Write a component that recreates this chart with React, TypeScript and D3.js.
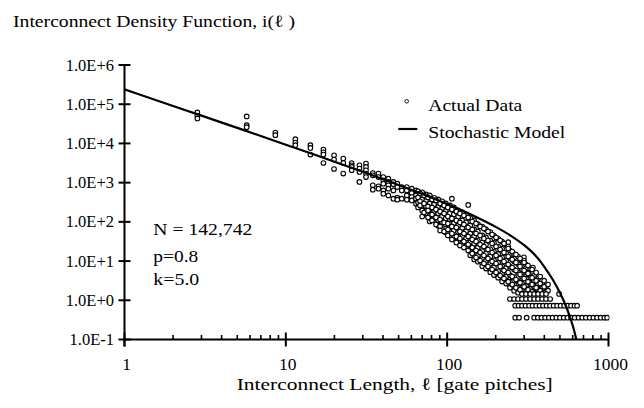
import React from "react";
import * as d3 from "d3";

// ---- Data ----
const xTickValues = [1, 10, 100, 1000];
const xTickLabels = ["1", "10", "100", "1000"];
const yTickValues = [1e6, 1e5, 1e4, 1e3, 1e2, 1e1, 1e0, 1e-1];
const yTickLabels = ["1.0E+6", "1.0E+5", "1.0E+4", "1.0E+3", "1.0E+2", "1.0E+1", "1.0E+0", "1.0E-1"];

// Stochastic model: [length, density]
const modelLengths = [1, 2, 3, 5, 7, 10, 15, 20, 30, 50, 70, 100, 150, 200, 250, 300, 350, 378, 400, 450, 500, 550, 600, 620, 640];
const modelValues = [239200, 90400, 51100, 24870, 15450, 9295, 5200, 3427, 1891, 873.6, 514.4, 283.9, 135.6, 74.5, 43.3, 25.4, 14.26, 9.85, 7.16, 3.43, 1.557, 0.645, 0.2268, 0.1387, 0.0796];

// Actual data, grouped by interconnect length: [length, densities]
const actualUpper: [number, number[]][] = [
  [2.83, [61700, 50500, 43400]],
  [5.72, [48800, 29200, 25900]],
  [8.61, [19000, 16200]],
  [11.45, [12800, 10500, 9000]],
  [14.2, [9000, 7670, 5200]],
  [17.1, [6980, 5960, 5200, 3170]],
  [19.9, [4990, 3870, 2230]],
  [22.7, [4110, 3170, 1700]],
  [25.6, [3170, 2770, 2510, 2070]],
  [28.6, [2770, 2280, 1870, 1040]],
  [31.4, [3060, 2510, 2070, 1700, 1390]],
  [34.6, [1760, 1540, 853, 662]],
  [37.5, [1700, 1390, 804, 703]],
  [40.2, [1390, 1150, 942, 635, 524]],
  [43.2, [1260, 1040, 853, 703, 473]],
  [46.4, [1040, 906, 635, 390]],
  [49.1, [942, 771, 413, 367]],
  [52.3, [771, 635, 390]],
  [56.2, [771, 635, 473, 367]],
  [60.3, [703, 542, 429, 352]],
  [64.1, [635, 473, 390, 290]],
];

const actualCloudA: [number, number[]][] = [
  [66, [600, 420, 313, 233]],
  [70, [565, 374, 265, 196, 137]],
  [74, [502, 340, 248, 160]],
  [78, [473, 296, 215, 146, 102]],
  [83, [410, 279, 180, 122]],
  [88, [374, 240, 164, 109, 80]],
  [93, [333, 220, 140, 96.6, 64]],
  [98, [296, 190, 122, 86, 53.6]],
  [104, [263, 165, 115, 72, 44.9]],
  [107, [390]],
  [110, [233, 155, 92, 60.3, 40]],
  [117, [196, 135, 81, 54, 31.5]],
  [124, [174, 109, 70, 42.4, 28]],
  [131, [150, 96.6, 58, 37.6, 23.5]],
  [135, [270]],
  [139, [125, 81, 50.5, 30, 19.7, 14.0]],
  [147, [109, 64, 42.4, 27.5, 16.5, 11.0]],
  [155, [88, 56.9, 33, 22.1, 13.8, 9.6]],
  [165, [76, 45, 29.7, 18.0, 11.6, 7.4]],
  [174, [64, 40, 26, 15.6, 10.2, 6.43]],
  [185, [55, 33.4, 20.0, 13.0, 8.5, 5.2]],
  [195, [44.9, 29.0, 17.5, 10.5, 6.82, 4.4]],
  [207, [37.6, 23.5, 15.2, 9.16, 5.5, 3.78]],
  [219, [31.5, 20.5, 12.3, 7.4, 4.79, 3.0]],
  [232, [26.4, 16.0, 10.3, 6.7, 4.01, 2.66]],
  [239, [30.3, 23.5]],
  [245, [18.6, 12.0, 7.23, 4.4, 2.99, 2.10]],
  [260, [15.0, 9.71, 6.07, 3.9, 2.51, 1.76]],
  [275, [13.0, 8.4, 5.08, 3.1, 2.10, 1.56]],
  [291, [10.3, 6.2, 4.01, 2.66, 1.87]],
  [299, [12.5, 10.3]],
  [308, [8.13, 5.2, 3.57, 2.37, 1.66]],
  [327, [6.43, 4.4, 2.82, 1.98]],
  [340, [6.82, 5.08]],
  [346, [4.26, 3.17, 2.23, 1.66]],
  [366, [3.57, 2.51, 1.87]],
  [388, [2.66, 1.98, 1.48]],
  [410, [2.23, 1.66]],
  [494, [1.45]],
];

const actualCloudB: [number, number[]][] = [
  [67.9, [532, 333, 263]],
  [71.9, [473, 296, 174]],
  [76.1, [421, 248, 196, 130]],
  [80.6, [374, 233, 155, 109]],
  [85.3, [353, 208, 130, 85.9]],
  [90.4, [296, 185, 115, 76.3, 60.3]],
  [95.7, [263, 164, 96.6, 56.8]],
  [101, [233, 137, 91.0, 63.9, 44.9]],
  [107, [208, 122, 76.3, 50.5, 35.5]],
  [114, [185, 109, 71.9, 42.4, 29.7]],
  [120, [164, 96.6, 56.8, 37.6, 24.9]],
  [127, [146, 85.9, 50.5, 31.5, 22.1]],
  [135, [130, 71.9, 42.4, 26.4, 18.6]],
  [143, [102, 63.9, 35.5, 22.1, 15.6]],
  [151, [91.0, 50.5, 31.5, 18.6, 12.3]],
  [160, [76.3, 44.9, 26.4, 16.5, 10.3]],
  [169, [67.8, 37.6, 23.5, 13.8, 8.63]],
  [179, [56.8, 33.4, 19.7, 11.6, 7.23]],
  [190, [47.6, 28.0, 16.5, 9.71, 6.06]],
  [201, [39.9, 23.5, 13.8, 8.63, 5.08]],
  [213, [33.4, 19.7, 11.6, 7.23, 4.26]],
  [225, [28.0, 16.5, 9.71, 5.71, 3.57]],
  [239, [20.9, 13.0, 8.13, 5.08, 2.99]],
  [253, [17.5, 10.9, 6.82, 4.02, 2.51]],
  [267, [14.7, 9.16, 5.71, 3.37, 2.10]],
  [283, [11.6, 7.23, 4.52, 2.82, 1.87]],
  [300, [9.16, 5.71, 3.57, 2.23]],
  [317, [7.67, 4.79, 2.99, 1.87]],
  [336, [6.06, 3.78, 2.51, 1.66]],
  [356, [5.08, 3.17, 2.10, 1.48]],
  [377, [4.02, 2.66, 1.76]],
  [399, [3.17, 2.23, 1.56]],
  [422, [2.51, 1.76]],
];

// Discrete low-count rows: [density, lengths]
const actualRows: [number, number[]][] = [
  [1.45, [291, 308, 327, 346, 366, 388, 410]],
  [1.08, [245, 260, 275, 291, 308, 327, 346, 366, 388, 410, 435]],
  [0.73, [264, 277, 291, 306, 322, 338, 356, 374, 393, 413, 434, 457, 480, 505, 531, 558, 586, 616, 639]],
  [0.36, [264, 279, 311, 346, 365, 384, 405, 427, 450, 475, 500, 528, 556, 586, 618, 652, 687, 724, 764, 805, 849, 895, 943, 980]],
];

const W = 644;
const H = 408;
const FONT = "'Times New Roman', 'Liberation Serif', Times, serif";

export default function App() {
  const x = d3.scaleLog().domain([1, 1000]).range([124.5, 608.5]);
  const y = d3.scaleLog().domain([0.1, 1e6]).range([339.5, 65]);

  const points: { l: number; d: number }[] = [];
  [...actualUpper, ...actualCloudA, ...actualCloudB].forEach(([l, ds]) =>
    ds.forEach((d) => points.push({ l, d }))
  );
  actualRows.forEach(([d, ls]) => ls.forEach((l) => points.push({ l, d })));

  const modelData = modelLengths.map((l, i) => [l, modelValues[i]] as [number, number]);
  const line = d3
    .line<[number, number]>()
    .x((d) => x(d[0]))
    .y((d) => y(d[1]))
    .curve(d3.curveMonotoneX);

  const minorTicks: number[] = [];
  [1, 10, 100].forEach((dec) => {
    for (let k = 2; k <= 9; k++) minorTicks.push(dec * k);
  });

  const axisY = y(0.1);
  const axisX = x(1);

  return (
    <svg
      width={W}
      height={H}
      style={{ position: "absolute", left: 0, top: 0, background: "#fff", fontFamily: FONT }}
    >
      <rect x={0} y={0} width={W} height={H} fill="#fff" />
      <defs>
        <clipPath id="plotClip">
          <rect x={axisX} y={40} width={x(1000) - axisX + 1} height={axisY - 40} />
        </clipPath>
      </defs>

      {/* Title */}
      <text x={13} y={27} fontSize={17} textLength={282} lengthAdjust="spacingAndGlyphs" fill="#000">
        Interconnect Density Function, i(ℓ )
      </text>

      {/* Data points */}
      <g clipPath="url(#plotClip)">
        {points.map((p, i) => (
          <circle key={i} cx={x(p.l)} cy={y(p.d)} r={2.3} fill="#fff" stroke="#000" strokeWidth={1.1} />
        ))}
        <path d={line(modelData) || ""} fill="none" stroke="#000" strokeWidth={2.2} />
      </g>

      {/* Y axis */}
      <line x1={axisX} x2={axisX} y1={y(1e6)} y2={axisY + 7} stroke="#000" strokeWidth={2} />
      {yTickValues.map((v, i) => (
        <g key={"yt" + i}>
          <line x1={axisX - 6} x2={axisX + 6} y1={y(v)} y2={y(v)} stroke="#000" strokeWidth={2} />
          <text x={114} y={y(v) + 5.5} fontSize={16.5} textAnchor="end" fill="#000">
            {yTickLabels[i]}
          </text>
        </g>
      ))}

      {/* X axis */}
      <line x1={axisX} x2={x(1000)} y1={axisY} y2={axisY} stroke="#000" strokeWidth={2} />
      {minorTicks.map((v, i) => (
        <line key={"mt" + i} x1={x(v)} x2={x(v)} y1={axisY - 4.5} y2={axisY} stroke="#000" strokeWidth={1.6} />
      ))}
      {xTickValues.map((v, i) => (
        <g key={"xt" + i}>
          <line x1={x(v)} x2={x(v)} y1={axisY - 7} y2={axisY + 7} stroke="#000" strokeWidth={2} />
          <text x={x(v) + 2} y={369.5} fontSize={17.5} textAnchor="middle" fill="#000">
            {xTickLabels[i]}
          </text>
        </g>
      ))}

      {/* X axis title */}
      <text x={236.7} y={390} fontSize={17.5} textLength={316} lengthAdjust="spacingAndGlyphs" fill="#000">
        Interconnect Length, ℓ [gate pitches]
      </text>

      {/* Annotation */}
      <text x={153.3} y={235} fontSize={17.5} textLength={99} lengthAdjust="spacingAndGlyphs" fill="#000">
        N = 142,742
      </text>
      <text x={153.3} y={261.7} fontSize={17.5} textLength={45} lengthAdjust="spacingAndGlyphs" fill="#000">
        p=0.8
      </text>
      <text x={153.3} y={285} fontSize={17.5} textLength={46} lengthAdjust="spacingAndGlyphs" fill="#000">
        k=5.0
      </text>

      {/* Legend */}
      <circle cx={406.7} cy={101.3} r={1.8} fill="#fff" stroke="#000" strokeWidth={0.9} />
      <text x={428.3} y={110.7} fontSize={17.5} textLength={94} lengthAdjust="spacingAndGlyphs" fill="#000">
        Actual Data
      </text>
      <line x1={398.3} x2={417.3} y1={129} y2={129} stroke="#000" strokeWidth={2.2} />
      <text x={428.3} y={138.3} fontSize={17.5} textLength={137} lengthAdjust="spacingAndGlyphs" fill="#000">
        Stochastic Model
      </text>
    </svg>
  );
}
